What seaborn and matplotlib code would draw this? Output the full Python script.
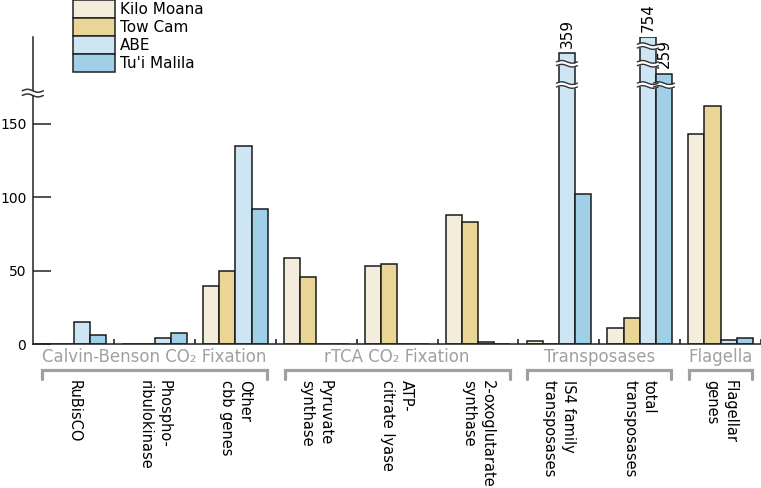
import numpy as np
import pandas as pd
import matplotlib
matplotlib.use("Agg")
import matplotlib.pyplot as plt
from matplotlib.patches import Patch
import seaborn as sns

# data (gene counts per site)
genes = ["RuBisCO", "Phospho-\nribulokinase", "Other\ncbb genes",
         "Pyruvate\nsynthase", "ATP-\ncitrate lyase", "2-oxoglutarate\nsynthase",
         "IS4 family\ntransposases", "total\ntransposases", "Flagellar\ngenes"]
sites = ["Kilo Moana", "Tow Cam", "ABE", "Tu'i Malila"]
kilo_moana = [0, 0, 40, 59, 53, 88, 2.5, 11, 143]
tow_cam = [0, 0, 50, 46, 55, 83, 0, 18, 162]
abe = [15, 4.5, 135, 0, 0.5, 1.5, 359, 754, 3]
tui_malila = [6, 8, 92, 0, 0, 0, 102, 259, 4.5]
colors = ["#f4eddb", "#e9d596", "#cee6f3", "#a0d0e7"]

# bars that run off the scale: height shown and where the break marks sit
broken_shown = {(6, "ABE"): 198, (7, "ABE"): 209, (7, "Tu'i Malila"): 184}
broken_marks = {(6, "ABE"): [191, 176.5],
                (7, "ABE"): [203, 191, 176.5],
                (7, "Tu'i Malila"): [176.5]}

groups = ["Calvin-Benson CO\u2082 Fixation", "rTCA CO\u2082 Fixation", "Transposases", "Flagella"]
group_span = [(0, 2), (3, 5), (6, 7), (8, 8)]

YTOP = 209

rows = []
for site, vals in zip(sites, [kilo_moana, tow_cam, abe, tui_malila]):
    for i, (g, v) in enumerate(zip(genes, vals)):
        shown = broken_shown.get((i, site), v)
        rows.append({"gene": g, "site": site, "count": v, "shown": shown})
df = pd.DataFrame(rows)

sns.set_style("ticks")
plt.rcParams["font.family"] = ["DejaVu Sans"]
plt.rcParams["text.color"] = "black"
plt.rcParams["xtick.color"] = "#222222"
plt.rcParams["ytick.color"] = "#222222"
plt.rcParams["xtick.labelcolor"] = "black"
plt.rcParams["ytick.labelcolor"] = "black"

fig = plt.figure(figsize=(7.61, 4.88), dpi=100)
ax = fig.add_axes([33.3 / 761, 1 - 344.3 / 488, 1 - 33.3 / 761, 307 / 488])

sns.barplot(data=df, x="gene", y="shown", hue="site", order=genes, hue_order=sites,
            palette=colors, saturation=1, width=0.8, edgecolor="#1a1a1a",
            linewidth=1.1, legend=False, ax=ax)

ax.set_xlim(-0.5, len(genes) - 0.5)
ax.set_ylim(0, YTOP)
ax.set_xlabel("")
ax.set_ylabel("")
sns.despine(ax=ax)
for s in ["left", "bottom"]:
    ax.spines[s].set_linewidth(1.1)
    ax.spines[s].set_color("#222222")

ax.set_yticks([0, 50, 100, 150])
ax.tick_params(axis="y", direction="in", length=13, width=1.1, labelsize=10, pad=5)
ax.set_xticks(range(len(genes)))
ax.set_xticklabels(genes, rotation=270, fontsize=10.5, linespacing=1.3)
for lab in ax.get_xticklabels():
    lab.set_multialignment("left")
    lab.set_va("top")
    lab.set_ha("center")
ax.tick_params(axis="x", which="major", length=0, pad=26)
ax.set_xticks(np.arange(0.5, len(genes)), minor=True)
ax.tick_params(axis="x", which="minor", direction="in", length=3.5, width=1.2)

# break marks on the long bars, plus value labels
t = np.linspace(0, 1, 60)
for (ci, site), marks in broken_marks.items():
    bar = ax.containers[sites.index(site)][ci]
    x0, w = bar.get_x(), bar.get_width()
    xs = x0 - 0.03 + t * (w + 0.06)
    for ym in marks:
        lo = ym - 1.3 + 0.9 * np.sin(2 * np.pi * t)
        hi = ym + 1.3 + 0.9 * np.sin(2 * np.pi * t)
        ax.fill_between(xs, lo, hi, color="white", zorder=5, lw=0)
        ax.plot(xs, lo, color="#333333", lw=1, zorder=6)
        ax.plot(xs, hi, color="#333333", lw=1, zorder=6)
    count = df.loc[(df.gene == genes[ci]) & (df.site == site), "count"].iloc[0]
    ax.annotate(f"{count:g}", (x0 + w / 2, bar.get_height()), xytext=(0, 4),
                textcoords="offset points", rotation=90, ha="center", va="bottom",
                fontsize=11, annotation_clip=False)

# break on the y axis
xs = -0.636 + t * 0.26
for off in (-1.6, 1.6):
    ax.plot(xs, 171 + off + 1.0 * np.sin(2 * np.pi * t), color="#333333", lw=1.1,
            clip_on=False, zorder=6)
ax.fill_between(xs, 169.4 + np.sin(2 * np.pi * t), 172.6 + np.sin(2 * np.pi * t),
                color="white", lw=0, clip_on=False, zorder=5)

# group titles and brackets under the axis
tr = ax.get_xaxis_transform()
for name, (a, b) in zip(groups, group_span):
    ax.text((a + b) / 2, -0.041, name, transform=tr, ha="center", va="center",
            fontsize=12, color="#a0a0a0")
    xl, xr = a - 0.39, b + 0.39
    ax.plot([xl, xl, xr, xr], [-0.112, -0.085, -0.085, -0.112], transform=tr,
            color="#a0a0a0", lw=2.3, clip_on=False, solid_joinstyle="miter")

handles = [Patch(facecolor=c, edgecolor="#222222", lw=1.1) for c in colors]
fig.legend(handles, sites, loc="upper left", bbox_to_anchor=(73 / 761, 1.0),
           frameon=False, fontsize=11, borderpad=0, handlelength=2.75,
           handleheight=1.44, labelspacing=0, handletextpad=0.35, borderaxespad=0)

fig.savefig("out.png", dpi=100)
